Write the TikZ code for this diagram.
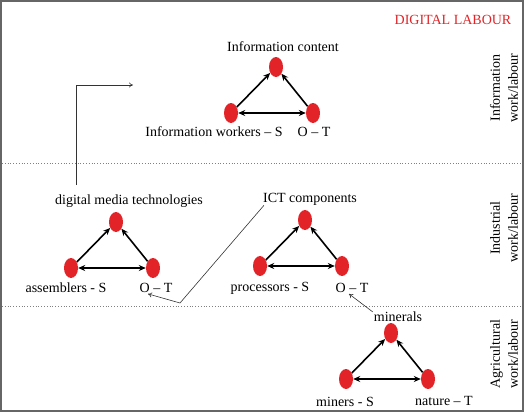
\documentclass[tikz,border=0pt]{standalone}
\usepackage{fontspec}
\setmainfont{Liberation Serif}
\usetikzlibrary{arrows.meta,shapes.geometric}
\definecolor{dotred}{RGB}{226,36,40}

\tikzset{
  dot/.style={ellipse,fill=dotred,inner sep=0pt,minimum width=14pt,minimum height=20pt},
  lnk/.style={line width=1.6pt,-{Stealth[length=7pt,width=6pt]}},
  twin/.style={line width=1.6pt,{Stealth[length=7pt,width=6pt]}-{Stealth[length=7pt,width=6pt]}},
  lbl/.style={font=\fontsize{14}{16}\selectfont,inner sep=0pt},
  side/.style={font=\fontsize{14}{18}\selectfont,inner sep=0pt,rotate=90,align=center},
  pointer/.style={line width=0.6pt,black!80,-{To[length=4pt,width=5pt]}},
  bandline/.style={gray,dotted,line width=0.8pt}
}

\begin{document}
\begin{tikzpicture}[x=1pt,y=-1pt]
\useasboundingbox (0,0) rectangle (524,412);
\draw[gray!80!black,line width=1.6pt] (1,1) rectangle (523,411);
\draw[bandline] (2,163) -- (522,163);
\draw[bandline] (2,306) -- (522,306);

% title and bands
\node[lbl,text=dotred] (title) at (453,20) {DIGITAL LABOUR};
\node[side] (infoband) at (504,88) {Information\\work/labour};
\node[side] (indband) at (504,228) {Industrial\\work/labour};
\node[side] (agrband) at (504,354) {Agricultural\\work/labour};

% the four triangles
\foreach \n/\x/\y in {info/231/113, asm/71/268, proc/260/266, mine/346/379} {
  \node[dot] (\n s) at (\x,\y) {};
  \node[dot] (\n t) at (\x+82,\y) {};
  \node[dot] (\n o) at (\x+45,\y-46) {};
  \draw[lnk] (\n s) -- (\n o);
  \draw[lnk] (\n t) -- (\n o);
  \draw[twin] (\n s) -- (\n t);
}

% labels
\node[lbl] (infocont) at (283,47) {Information content};
\node[lbl] (infowork) at (214,132) {Information workers -- S};
\node[lbl] (infoot) at (314,132) {O -- T};
\node[lbl] (dmt) at (129,201) {digital media technologies};
\node[lbl] (asmlab) at (66,288) {assemblers - S};
\node[lbl] (asmot) at (156,288) {O -- T};
\node[lbl] (ict) at (310,199) {ICT components};
\node[lbl] (proclab) at (270,288) {processors - S};
\node[lbl] (procot) at (352,288) {O -- T};
\node[lbl] (minerals) at (398,317) {minerals};
\node[lbl] (miners) at (345,402) {miners - S};
\node[lbl] (nature) at (444,401) {nature -- T};

% pointers
\coordinate (elbowstart) at (76,185);
\coordinate (elbowend) at (133,85);
\coordinate (ictbend) at (180,303);
\draw[pointer] (elbowstart) |- (elbowend);
\draw[pointer] ([xshift=1pt]ict.south west) -- (ictbend) -- ([xshift=-8pt,yshift=-1pt]asmot.south);
\draw[pointer] ([xshift=-1pt]minerals.north west) -- ([xshift=-3pt,yshift=-1pt]procot.south);
\end{tikzpicture}
\end{document}
